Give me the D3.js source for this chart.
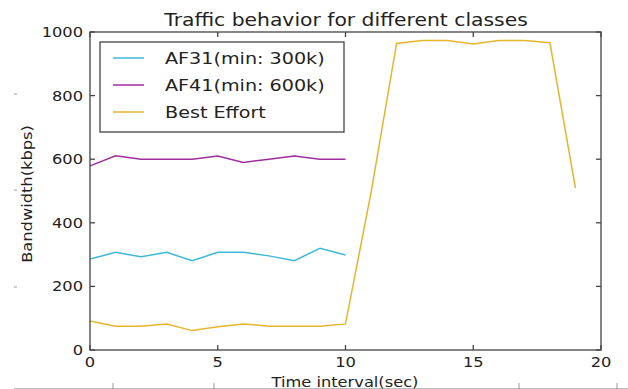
<!DOCTYPE html>
<html>
<head>
<meta charset="utf-8">
<script src="https://cdn.jsdelivr.net/npm/d3@7"></script>
<style>
body{margin:0;background:#fff}
svg{display:block;font-family:"DejaVu Sans",sans-serif}
</style>
</head>
<body>
<svg id="chart" width="628" height="389"></svg>
<script>
// data
let times=d3.range(0,21)
let af31=[286,307,293,307,281,307,307,296,281,320,299]
let af41=[579,611,600,600,600,610,590,600,610,600,600]
let besteffort=[91,75,75,82,61,73,82,75,75,75,82,495,964,973,973,962,973,973,966,509]
let xticks=[0,5,10,15,20]
let yticks=[0,200,400,600,800,1000]
let names=["AF31(min: 300k)","AF41(min: 600k)","Best Effort"]
let colors=["#3fb7d6","#a02d9e","#e6b52e"]

let svg=d3.select("#chart")
const m={l:90,r:27,t:32,b:39}
const W=628,H=389
const stretch=1.16 // the picture looks a bit widened

let x=d3.scaleLinear().domain([0,20]).range([m.l,W-m.r])
let y=d3.scaleLinear().domain([0,1000]).range([H-m.b,m.t])

// stray marks from a neighbouring subplot
let stray=svg.append("g").attr("stroke","#999").attr("stroke-width",1)
;[94,190,287].forEach(v=>stray.append("line").attr("x1",14).attr("x2",17).attr("y1",v).attr("y2",v))
stray.append("line").attr("x1",14).attr("x2",628).attr("y1",388.5).attr("y2",388.5).attr("stroke","#bbb")
;[113,214,519,617].forEach(v=>stray.append("line").attr("x1",v).attr("x2",v).attr("y1",383).attr("y2",389))

// series
let line=d3.line().x((d,i)=>x(i)).y(d=>y(d))
let series=[af31,af41,besteffort]
series.forEach((s,i)=>{
    svg.append("path").attr("d",line(s)).attr("fill","none")
       .attr("stroke",colors[i]).attr("stroke-width",1.5)
})

// widen a text element the way the picture was widened
let widen=(sel)=>sel.each(function(){
    let w=this.getComputedTextLength()
    d3.select(this).attr("textLength",w*stretch).attr("lengthAdjust","spacingAndGlyphs")
})

// axes, ticks pointing in on all four sides
const tk=5
let fr=svg.append("g").attr("stroke","#444").attr("stroke-width",1.3).attr("fill","none")
fr.append("rect").attr("x",x(0)).attr("y",y(1000)).attr("width",x(20)-x(0)).attr("height",y(0)-y(1000))
xticks.forEach(t=>{
    fr.append("line").attr("x1",x(t)).attr("x2",x(t)).attr("y1",y(0)).attr("y2",y(0)-tk)
    fr.append("line").attr("x1",x(t)).attr("x2",x(t)).attr("y1",y(1000)).attr("y2",y(1000)+tk)
})
yticks.forEach(t=>{
    fr.append("line").attr("x1",x(0)).attr("x2",x(0)+tk).attr("y1",y(t)).attr("y2",y(t))
    fr.append("line").attr("x1",x(20)).attr("x2",x(20)-tk).attr("y1",y(t)).attr("y2",y(t))
})
svg.append("g").selectAll("text").data(xticks).enter().append("text")
   .attr("x",d=>x(d)).attr("y",y(0)+17).attr("text-anchor","middle")
   .attr("font-size",14).attr("fill","#222").text(d=>d).call(widen)
svg.append("g").selectAll("text").data(yticks).enter().append("text")
   .attr("x",x(0)-7).attr("y",d=>y(d)+5).attr("text-anchor","end")
   .attr("font-size",14).attr("fill","#222").text(d=>d).call(widen)

svg.append("text").attr("x",346).attr("y",25.5).attr("text-anchor","middle")
   .attr("font-size",17.5).attr("fill","#222").text("Traffic behavior for different classes").call(widen)
svg.append("text").attr("x",345).attr("y",387).attr("text-anchor","middle")
   .attr("font-size",14).attr("fill","#222").text("Time interval(sec)").call(widen)
svg.append("text").attr("transform",`translate(32,${(y(0)+y(1000))/2+3}) rotate(-90)`)
   .attr("text-anchor","middle").attr("font-size",14).attr("fill","#222").text("Bandwidth(kbps)").call(widen)

// legend
let lg=svg.append("g")
lg.append("rect").attr("x",100).attr("y",42).attr("width",244).attr("height",90)
  .attr("fill","#fff").attr("stroke","#444").attr("stroke-width",1.3)
names.forEach((n,i)=>{
    let yy=58+i*27
    lg.append("line").attr("x1",113).attr("x2",144).attr("y1",yy).attr("y2",yy)
      .attr("stroke",colors[i]).attr("stroke-width",1.5)
    lg.append("text").attr("x",165).attr("y",yy+6).attr("font-size",16.5).attr("fill","#222").text(n).call(widen)
})
</script>
</body>
</html>
